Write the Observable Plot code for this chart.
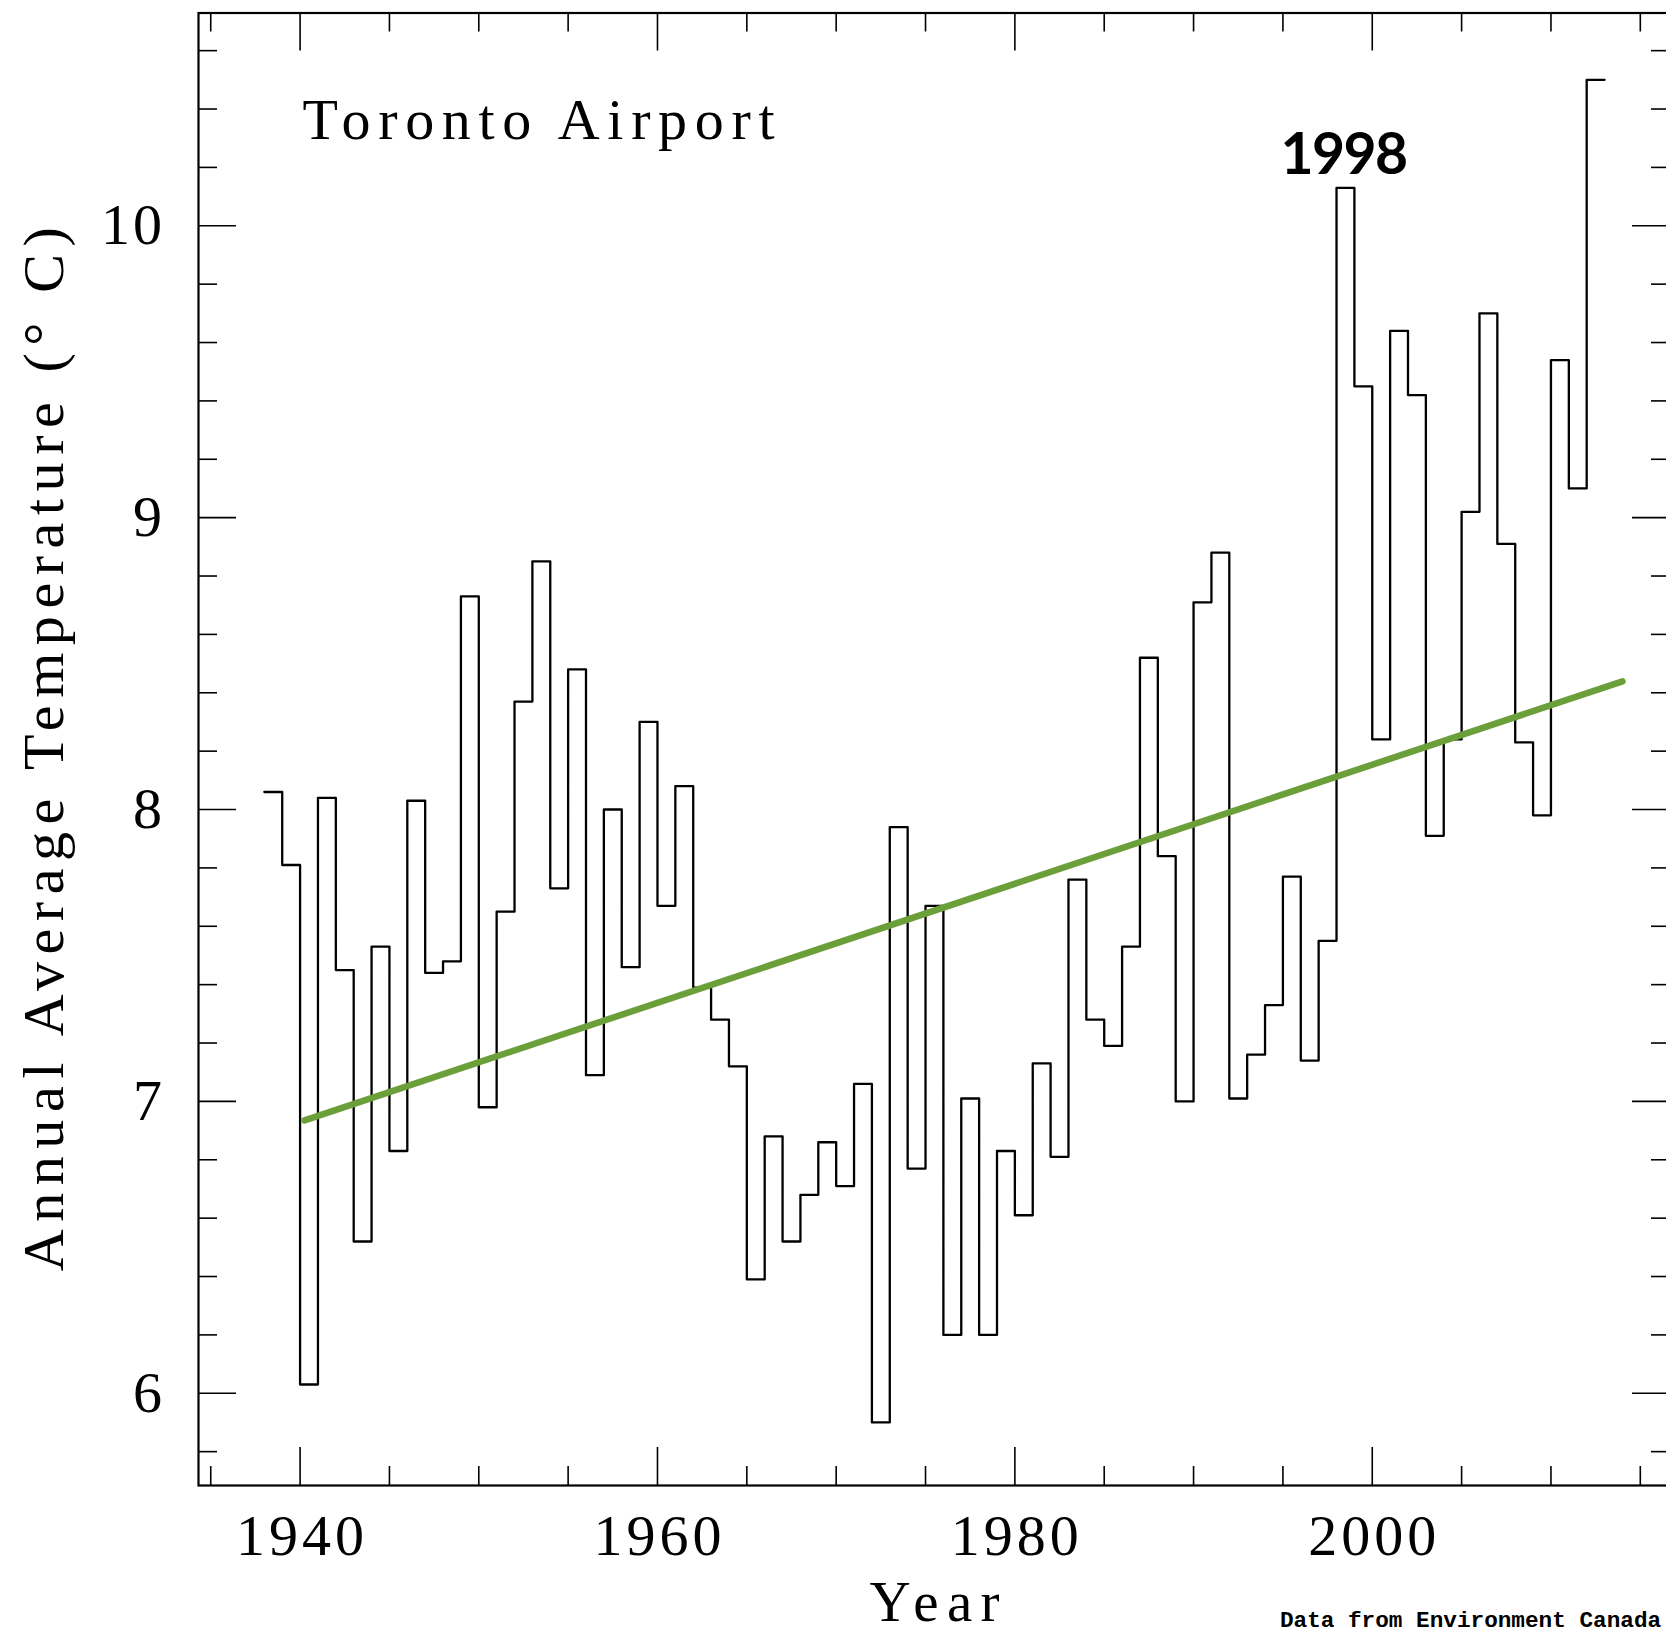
<!DOCTYPE html>
<html>
<head>
<meta charset="utf-8">
<script src="https://cdn.jsdelivr.net/npm/d3@7"></script>
<script src="https://cdn.jsdelivr.net/npm/@observablehq/plot@0.6"></script>
<style>
  html, body { margin: 0; padding: 0; background: #fff; overflow: hidden; }
  #chart svg { max-width: none !important; display: block; }
</style>
</head>
<body>
<div id="chart"></div>
<script>
// ---- data ----
const years = [
  1938, 1939, 1940, 1941, 1942, 1943, 1944, 1945, 1946, 1947,
  1948, 1949, 1950, 1951, 1952, 1953, 1954, 1955, 1956, 1957,
  1958, 1959, 1960, 1961, 1962, 1963, 1964, 1965, 1966, 1967,
  1968, 1969, 1970, 1971, 1972, 1973, 1974, 1975, 1976, 1977,
  1978, 1979, 1980, 1981, 1982, 1983, 1984, 1985, 1986, 1987,
  1988, 1989, 1990, 1991, 1992, 1993, 1994, 1995, 1996, 1997,
  1998, 1999, 2000, 2001, 2002, 2003, 2004, 2005, 2006, 2007,
  2008, 2009, 2010, 2011, 2012
];
const temps = [
  8.06, 7.81, 6.03, 8.04, 7.45, 6.52, 7.53, 6.83, 8.03, 7.44,
  7.48, 8.73, 6.98, 7.65, 8.37, 8.85, 7.73, 8.48, 7.09, 8.00,
  7.46, 8.30, 7.67, 8.08, 7.39, 7.28, 7.12, 6.39, 6.88, 6.52,
  6.68, 6.86, 6.71, 7.06, 5.90, 7.94, 6.77, 7.67, 6.20, 7.01,
  6.20, 6.83, 6.61, 7.13, 6.81, 7.76, 7.28, 7.19, 7.53, 8.52,
  7.84, 7.00, 8.71, 8.88, 7.01, 7.16, 7.33, 7.77, 7.14, 7.55,
  10.13, 9.45, 8.24, 9.64, 9.42, 7.91, 8.24, 9.02, 9.70, 8.91,
  8.23, 7.98, 9.54, 9.10, 10.50
];
const trendYears = [1940.25, 2014.0];
const trendTemps = [6.935, 8.439];

const xMajorTicks = [1940, 1960, 1980, 2000];
const xMinorTicks = [1935, 1945, 1950, 1955, 1965, 1970, 1975, 1985, 1990, 1995, 2005, 2010, 2015];
const yMajorTicks = [6, 7, 8, 9, 10];
const yMinorTicks = [5.8, 6.2, 6.4, 6.6, 6.8, 7.2, 7.4, 7.6, 7.8, 8.2, 8.4, 8.6, 8.8,
                     9.2, 9.4, 9.6, 9.8, 10.2, 10.4, 10.6];

const titleText = "Toronto Airport";
const xTitle = "Year";
const yTitle = "Annual Average Temperature (° C)";
const sourceText = "Data from Environment Canada";
const sourceYear = 1995;
const highlightYear = 1998;

// ---- build tables ----
const stepData = years.map((y, i) => ({year: y, temp: temps[i]}));
stepData.push({year: years[years.length - 1] + 1, temp: temps[temps.length - 1]});
const trendData = trendYears.map((y, i) => ({year: y, temp: trendTemps[i]}));
const highlight = [{year: highlightYear, temp: temps[years.indexOf(highlightYear)], label: String(highlightYear)}];

// ---- layout ----
const W = 1672, H = 1632;
const mL = 198, mR = 2, mT = 12.5, mB = 147;
const IW = W - mL - mR, IH = H - mT - mB;
const majorLen = 38, minorLen = 19;

const serif = "Liberation Serif, Times New Roman, serif";
const tickStyle = {stroke: "black", strokeWidth: 1.6};

const chart = Plot.plot({
  width: W, height: H,
  marginLeft: mL, marginRight: mR, marginTop: mT, marginBottom: mB,
  x: {domain: [1934.315, 2016.69], axis: null},
  y: {domain: [5.684, 10.729], axis: null},
  marks: [
    // inward ticks on all four sides
    Plot.tickX(xMajorTicks, {x: d => d, insetTop: IH - majorLen, ...tickStyle}),
    Plot.tickX(xMajorTicks, {x: d => d, insetBottom: IH - majorLen, ...tickStyle}),
    Plot.tickX(xMinorTicks, {x: d => d, insetTop: IH - minorLen, ...tickStyle}),
    Plot.tickX(xMinorTicks, {x: d => d, insetBottom: IH - minorLen, ...tickStyle}),
    Plot.tickY(yMajorTicks, {y: d => d, insetRight: IW - majorLen, ...tickStyle}),
    Plot.tickY(yMajorTicks, {y: d => d, insetLeft: IW - majorLen, ...tickStyle}),
    Plot.tickY(yMinorTicks, {y: d => d, insetRight: IW - minorLen, ...tickStyle}),
    Plot.tickY(yMinorTicks, {y: d => d, insetLeft: IW - minorLen, ...tickStyle}),
    Plot.frame({stroke: "black", strokeWidth: 2.2}),

    // tick labels
    Plot.text(xMajorTicks, {
      x: d => d, text: d => String(d), frameAnchor: "bottom", dy: 51,
      lineAnchor: "middle", textAnchor: "middle",
      fontFamily: serif, fontSize: 58, fill: "black"
    }),
    Plot.text(yMajorTicks, {
      y: d => d, text: d => String(d), frameAnchor: "left", dx: -36.5,
      lineAnchor: "middle", textAnchor: "end",
      fontFamily: serif, fontSize: 58, fill: "black"
    }),

    // axis titles
    Plot.text([xTitle], {
      text: d => d, frameAnchor: "bottom", dy: 135.5, lineAnchor: "bottom",
      textAnchor: "middle", fontFamily: serif, fontSize: 57, fill: "black"
    }),
    Plot.text([yTitle], {
      text: d => d, frameAnchor: "left", dx: -154, rotate: -90, lineAnchor: "middle",
      textAnchor: "middle", fontFamily: serif, fontSize: 58, fill: "black"
    }),

    // in-plot title
    Plot.text([titleText], {
      text: d => d, frameAnchor: "top-left", dx: 104, dy: 125.5, lineAnchor: "bottom",
      textAnchor: "start", fontFamily: serif, fontSize: 58, fill: "black"
    }),

    // data
    Plot.line(stepData, {x: "year", y: "temp", curve: "step-after", stroke: "black", strokeWidth: 2.3}),
    Plot.line(trendData, {x: "year", y: "temp", stroke: "#6a9f3a", strokeWidth: 6.5}),

    // 1998 annotation
    Plot.text(highlight, {
      x: "year", y: "temp", text: "label", dx: 7, dy: -14, lineAnchor: "bottom",
      textAnchor: "middle", fontFamily: "Lato, Open Sans, sans-serif", fontWeight: "bold",
      fontSize: 57, fill: "black"
    }),

    // source note
    Plot.text([sourceText], {
      x: () => sourceYear, text: d => d, frameAnchor: "bottom", dx: -3, dy: 141, lineAnchor: "bottom",
      textAnchor: "start", fontFamily: "Liberation Mono, DejaVu Sans Mono, monospace",
      fontWeight: "bold", fontSize: 22.7, fill: "black"
    })
  ]
});

document.getElementById("chart").appendChild(chart);

// spacing tweaks to mimic the wide plotter font (stretch by letter spacing)
const stretch = {
  [titleText]: 472,
  [xTitle]: 130,
  [yTitle]: 1044,
  "1940": 128, "1960": 128, "1980": 128, "2000": 128,
  "10": 61
};
d3.select(chart).selectAll("text").each(function () {
  const t = this.textContent;
  if (stretch[t] !== undefined) {
    d3.select(this).attr("textLength", stretch[t]).attr("lengthAdjust", "spacing");
  }
  if (t === String(highlightYear)) d3.select(this).attr("letter-spacing", -1.5);
});
</script>
</body>
</html>
